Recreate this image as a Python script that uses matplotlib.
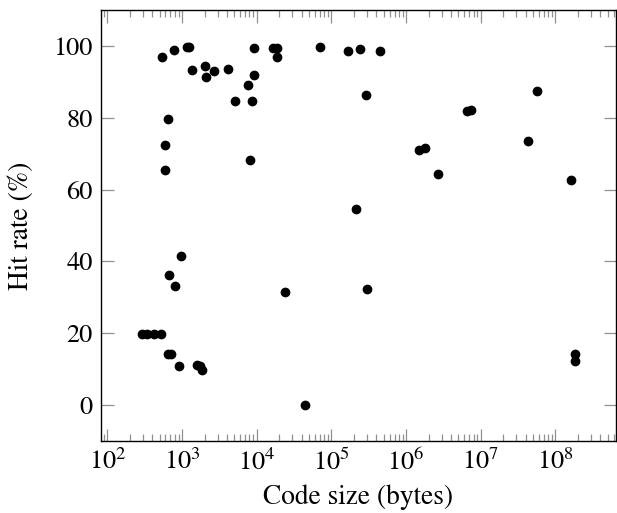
import matplotlib
matplotlib.use("Agg")
import matplotlib.pyplot as plt
from matplotlib.ticker import LogLocator, NullFormatter, FixedLocator

code_size = [534, 781, 1178, 1253, 1349, 2014, 2079, 2661, 4096, 5080, 7730, 8670,
             9140, 9310, 644, 593, 598, 8150, 16560, 18750, 18930, 70600, 169000,
             244000, 444000, 292000, 6.62e6, 7.43e6, 5.64e7, 1.51e6, 1.78e6, 4.27e7,
             2.66e6, 1.59e8, 212000, 970, 670, 798, 24000, 294, 337, 422, 528,
             644, 706, 922, 1574, 1726, 1837, 44500, 300000, 1.85e8, 1.85e8]
hit_rate = [96.9, 98.8, 99.7, 99.7, 93.2, 94.5, 91.4, 93.1, 93.7, 84.6, 89.0, 84.8,
            99.5, 91.9, 79.7, 72.4, 65.5, 68.2, 99.5, 99.5, 96.8, 99.6, 98.5,
            99.2, 98.6, 86.3, 81.9, 82.1, 87.5, 71.1, 71.6, 73.4,
            64.3, 62.6, 54.6, 41.5, 36.2, 33.1, 31.6, 19.9, 19.9, 19.9, 19.9,
            14.3, 14.3, 11.0, 11.1, 11.0, 9.9, 0.0, 32.2, 14.3, 12.4]
y_ticks = [0, 20, 40, 60, 80, 100]
x_ticks = [1e2, 1e3, 1e4, 1e5, 1e6, 1e7, 1e8]

plt.rcParams['font.family'] = ['STIXGeneral', 'DejaVu Serif']
plt.rcParams['mathtext.fontset'] = 'stix'

fig = plt.figure(figsize=(6.17, 5.13), dpi=100)
ax = fig.add_axes([101/617, 72/513, 515/617, 431/513])
ax.plot(code_size, hit_rate, 'o', color='black', markersize=6, linestyle='none')
ax.set_xscale('log')
ax.set_xlim(10**1.915, 10**8.81)
ax.set_ylim(-10, 110)
ax.xaxis.set_major_locator(FixedLocator(x_ticks))
ax.xaxis.set_minor_locator(LogLocator(base=10, subs=range(2, 10), numticks=20))
ax.xaxis.set_minor_formatter(NullFormatter())
ax.set_xticklabels([r'$10^{%d}$' % i for i in range(2, 9)])
ax.set_yticks(y_ticks)
tc = '#909090'
ax.tick_params(axis='both', which='major', direction='in', length=9, width=0.9,
               color=tc, labelsize=19, top=True, right=True, pad=6)
ax.tick_params(axis='x', which='minor', direction='in', length=5, width=0.9,
               color=tc, top=True, bottom=True)
ax.tick_params(axis='y', which='minor', left=False, right=False)
for s in ax.spines.values():
    s.set_linewidth(1.0)
ax.set_xlabel('Code size (bytes)', fontsize=19.7, labelpad=6)
ax.set_ylabel('Hit rate (%)', fontsize=19.7, labelpad=14)
fig.savefig('out.png', dpi=100)
